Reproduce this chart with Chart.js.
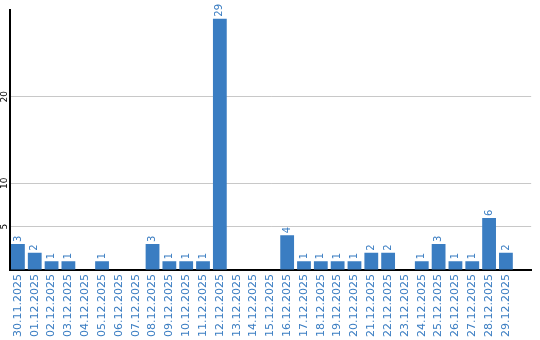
<!doctype html>
<html lang="de">
<head>
<meta charset="utf-8">
<title>Einträge pro Tag</title>
<script src="https://cdn.jsdelivr.net/npm/chart.js@4"></script>
<style>
  html, body { margin: 0; padding: 0; background: #fff; }
  #wrap { width: 540px; height: 340px; }
</style>
</head>
<body>
<div id="wrap"><canvas id="chart" width="540" height="340"></canvas></div>
<script>
  // values
  var dates = [
    '30.11.2025', '01.12.2025', '02.12.2025', '03.12.2025', '04.12.2025',
    '05.12.2025', '06.12.2025', '07.12.2025', '08.12.2025', '09.12.2025',
    '10.12.2025', '11.12.2025', '12.12.2025', '13.12.2025', '14.12.2025',
    '15.12.2025', '16.12.2025', '17.12.2025', '18.12.2025', '19.12.2025',
    '20.12.2025', '21.12.2025', '22.12.2025', '23.12.2025', '24.12.2025',
    '25.12.2025', '26.12.2025', '27.12.2025', '28.12.2025', '29.12.2025'
  ];
  var counts = [3, 2, 1, 1, 0, 1, 0, 0, 3, 1, 1, 1, 29, 0, 0, 0, 4, 1, 1, 1, 1, 2, 2, 0, 1, 3, 1, 1, 6, 2];
  var yTicks = [5, 10, 20];
  var yMax = 30;

  var blue = '#3a7dc2';

  // value above each bar, rotated like the date labels
  var barValues = {
    id: 'barValues',
    afterDatasetsDraw: function (chart) {
      var ctx = chart.ctx;
      var meta = chart.getDatasetMeta(0);
      ctx.save();
      ctx.fillStyle = blue;
      ctx.font = '10px "DejaVu Sans"';
      ctx.textAlign = 'left';
      ctx.textBaseline = 'middle';
      meta.data.forEach(function (bar, i) {
        if (!counts[i]) return;
        ctx.save();
        ctx.translate(bar.x, bar.y - 2);
        ctx.rotate(-Math.PI / 2);
        ctx.fillText(String(counts[i]), 0, 0);
        ctx.restore();
      });
      ctx.restore();
    }
  };

  // rotated y tick labels, placed through the y scale
  var yLabels = {
    id: 'yLabels',
    afterDraw: function (chart) {
      var ctx = chart.ctx;
      var y = chart.scales.y;
      ctx.save();
      ctx.fillStyle = '#000';
      ctx.font = '9px "DejaVu Sans"';
      ctx.textAlign = 'center';
      ctx.textBaseline = 'middle';
      yTicks.forEach(function (v) {
        ctx.save();
        ctx.translate(4.5, y.getPixelForValue(v));
        ctx.rotate(-Math.PI / 2);
        ctx.fillText(String(v), 0, 0);
        ctx.restore();
      });
      ctx.restore();
    }
  };

  new Chart(document.getElementById('chart'), {
    type: 'bar',
    data: {
      // one empty slot at the end, the axis runs on past the last day
      labels: dates.concat(['']),
      datasets: [{
        data: counts,
        backgroundColor: blue,
        borderWidth: 0,
        barPercentage: 0.82,
        categoryPercentage: 1
      }]
    },
    options: {
      responsive: false,
      animation: false,
      events: [],
      layout: { padding: { top: 10, right: 3.5, left: 0, bottom: 0 } },
      plugins: { legend: { display: false }, tooltip: { enabled: false } },
      scales: {
        x: {
          offset: true,
          grid: { display: false, drawTicks: false },
          border: { display: true, color: '#000', width: 2 },
          ticks: {
            autoSkip: false,
            minRotation: 90,
            maxRotation: 90,
            padding: 4,
            color: blue,
            font: { family: 'DejaVu Sans', size: 11 }
          },
          afterFit: function (s) { s.height = 70; }
        },
        y: {
          min: 0,
          max: yMax,
          afterBuildTicks: function (s) {
            s.ticks = [0].concat(yTicks).map(function (v) { return { value: v }; });
          },
          grid: {
            drawTicks: false,
            color: function (c) { return c.tick && c.tick.value === 0 ? 'rgba(0,0,0,0)' : '#c8c8c8'; }
          },
          border: { display: true, color: '#000', width: 2 },
          ticks: { display: false },
          afterFit: function (s) { s.width = 9.5; }
        }
      }
    },
    plugins: [barValues, yLabels]
  });
</script>
</body>
</html>
